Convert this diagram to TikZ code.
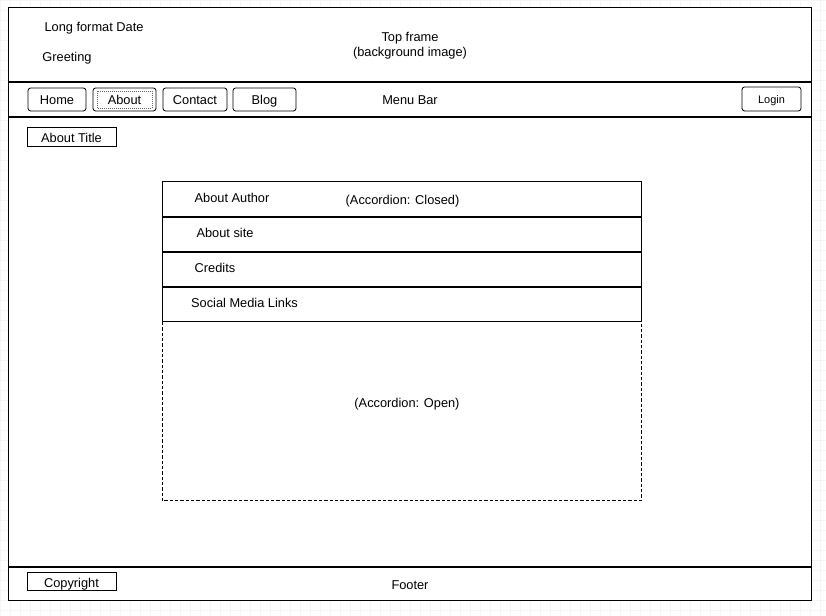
\documentclass[tikz,border=0pt]{standalone}
\usepackage{fontspec}
\setmainfont{Liberation Sans}
\begin{document}
\begin{tikzpicture}[x=0.75pt,y=-0.75pt,
  every node/.style={font=\fontsize{9.6}{11.5}\selectfont, inner sep=0pt, text height=6.9pt, text depth=0pt},
  btn/.style={draw, rounded corners=2pt, line width=0.6pt},
  sq/.style={draw, line width=0.75pt},
  thick line/.style={line width=1.5pt},
  lbl/.style={}]
\useasboundingbox (0,0) rectangle (826,616);
% faint background grid
\draw[black!4, line width=0.4pt, step=7.5pt] (0,0) grid (826,616);
\fill[white] (8,8) rectangle (811,601);
% outer frame
\draw[line width=0.75pt] (8,8) rectangle (811,601);
\draw[thick line] (8,82) -- (811,82);
\draw[thick line] (8,117) -- (811,117);
\draw[thick line] (8,567) -- (811,567);
% top frame
\node[lbl] (date) at (94,27) {Long format Date};
\node[lbl] (greet) at (67,57) {Greeting};
\node[lbl] (top) at (410,37) {Top frame};
\node[lbl] (topb) at (410,52) {(background image)};
% menu bar
\draw[btn] (28,88) rectangle (86,111);
\node (home) at (57,99.5) {Home};
\draw[btn] (93,88) rectangle (156,111);
\node (about) at (124.5,99.5) {About};
\draw[black!60, densely dotted, line width=0.5pt] (97,91) rectangle (152,108);
\draw[btn] (163,88) rectangle (227,111);
\node (contact) at (195,99.5) {Contact};
\draw[btn] (233,88) rectangle (296,111);
\node (blog) at (264.5,99.5) {Blog};
\node (menu) at (410,99.5) {Menu Bar};
\draw[btn] (742,87) rectangle (801,111);
\node[font=\fontsize{8.2}{10}\selectfont, text height=5.9pt] (login) at (771.5,99.5) {Login};
% about title
\draw[sq] (27,128) rectangle (116,147);
\node (atitle) at (71.5,137.5) {About Title};
% accordion
\draw[sq] (162,182) rectangle (641,322);
\draw[thick line] (162,217) -- (641,217);
\draw[thick line] (162,252) -- (641,252);
\draw[thick line] (162,287) -- (641,287);
\draw[line width=0.75pt, dashed, dash pattern=on 2.5pt off 1.5pt] (162,322) rectangle (641,501);
\node (author) at (232,197.5) {About Author};
\node (closed) at (402.5,199.5) {(Accordion: Closed)};
\node (site) at (225,232.5) {About site};
\node (credits) at (215,267.5) {Credits};
\node (social) at (244.5,302.5) {Social Media Links};
\node (open) at (407,403) {(Accordion: Open)};
% footer
\draw[sq] (27,573) rectangle (116,591);
\node (copy) at (71.5,582.5) {Copyright};
\node (footer) at (410,584.5) {Footer};
\end{tikzpicture}
\end{document}
